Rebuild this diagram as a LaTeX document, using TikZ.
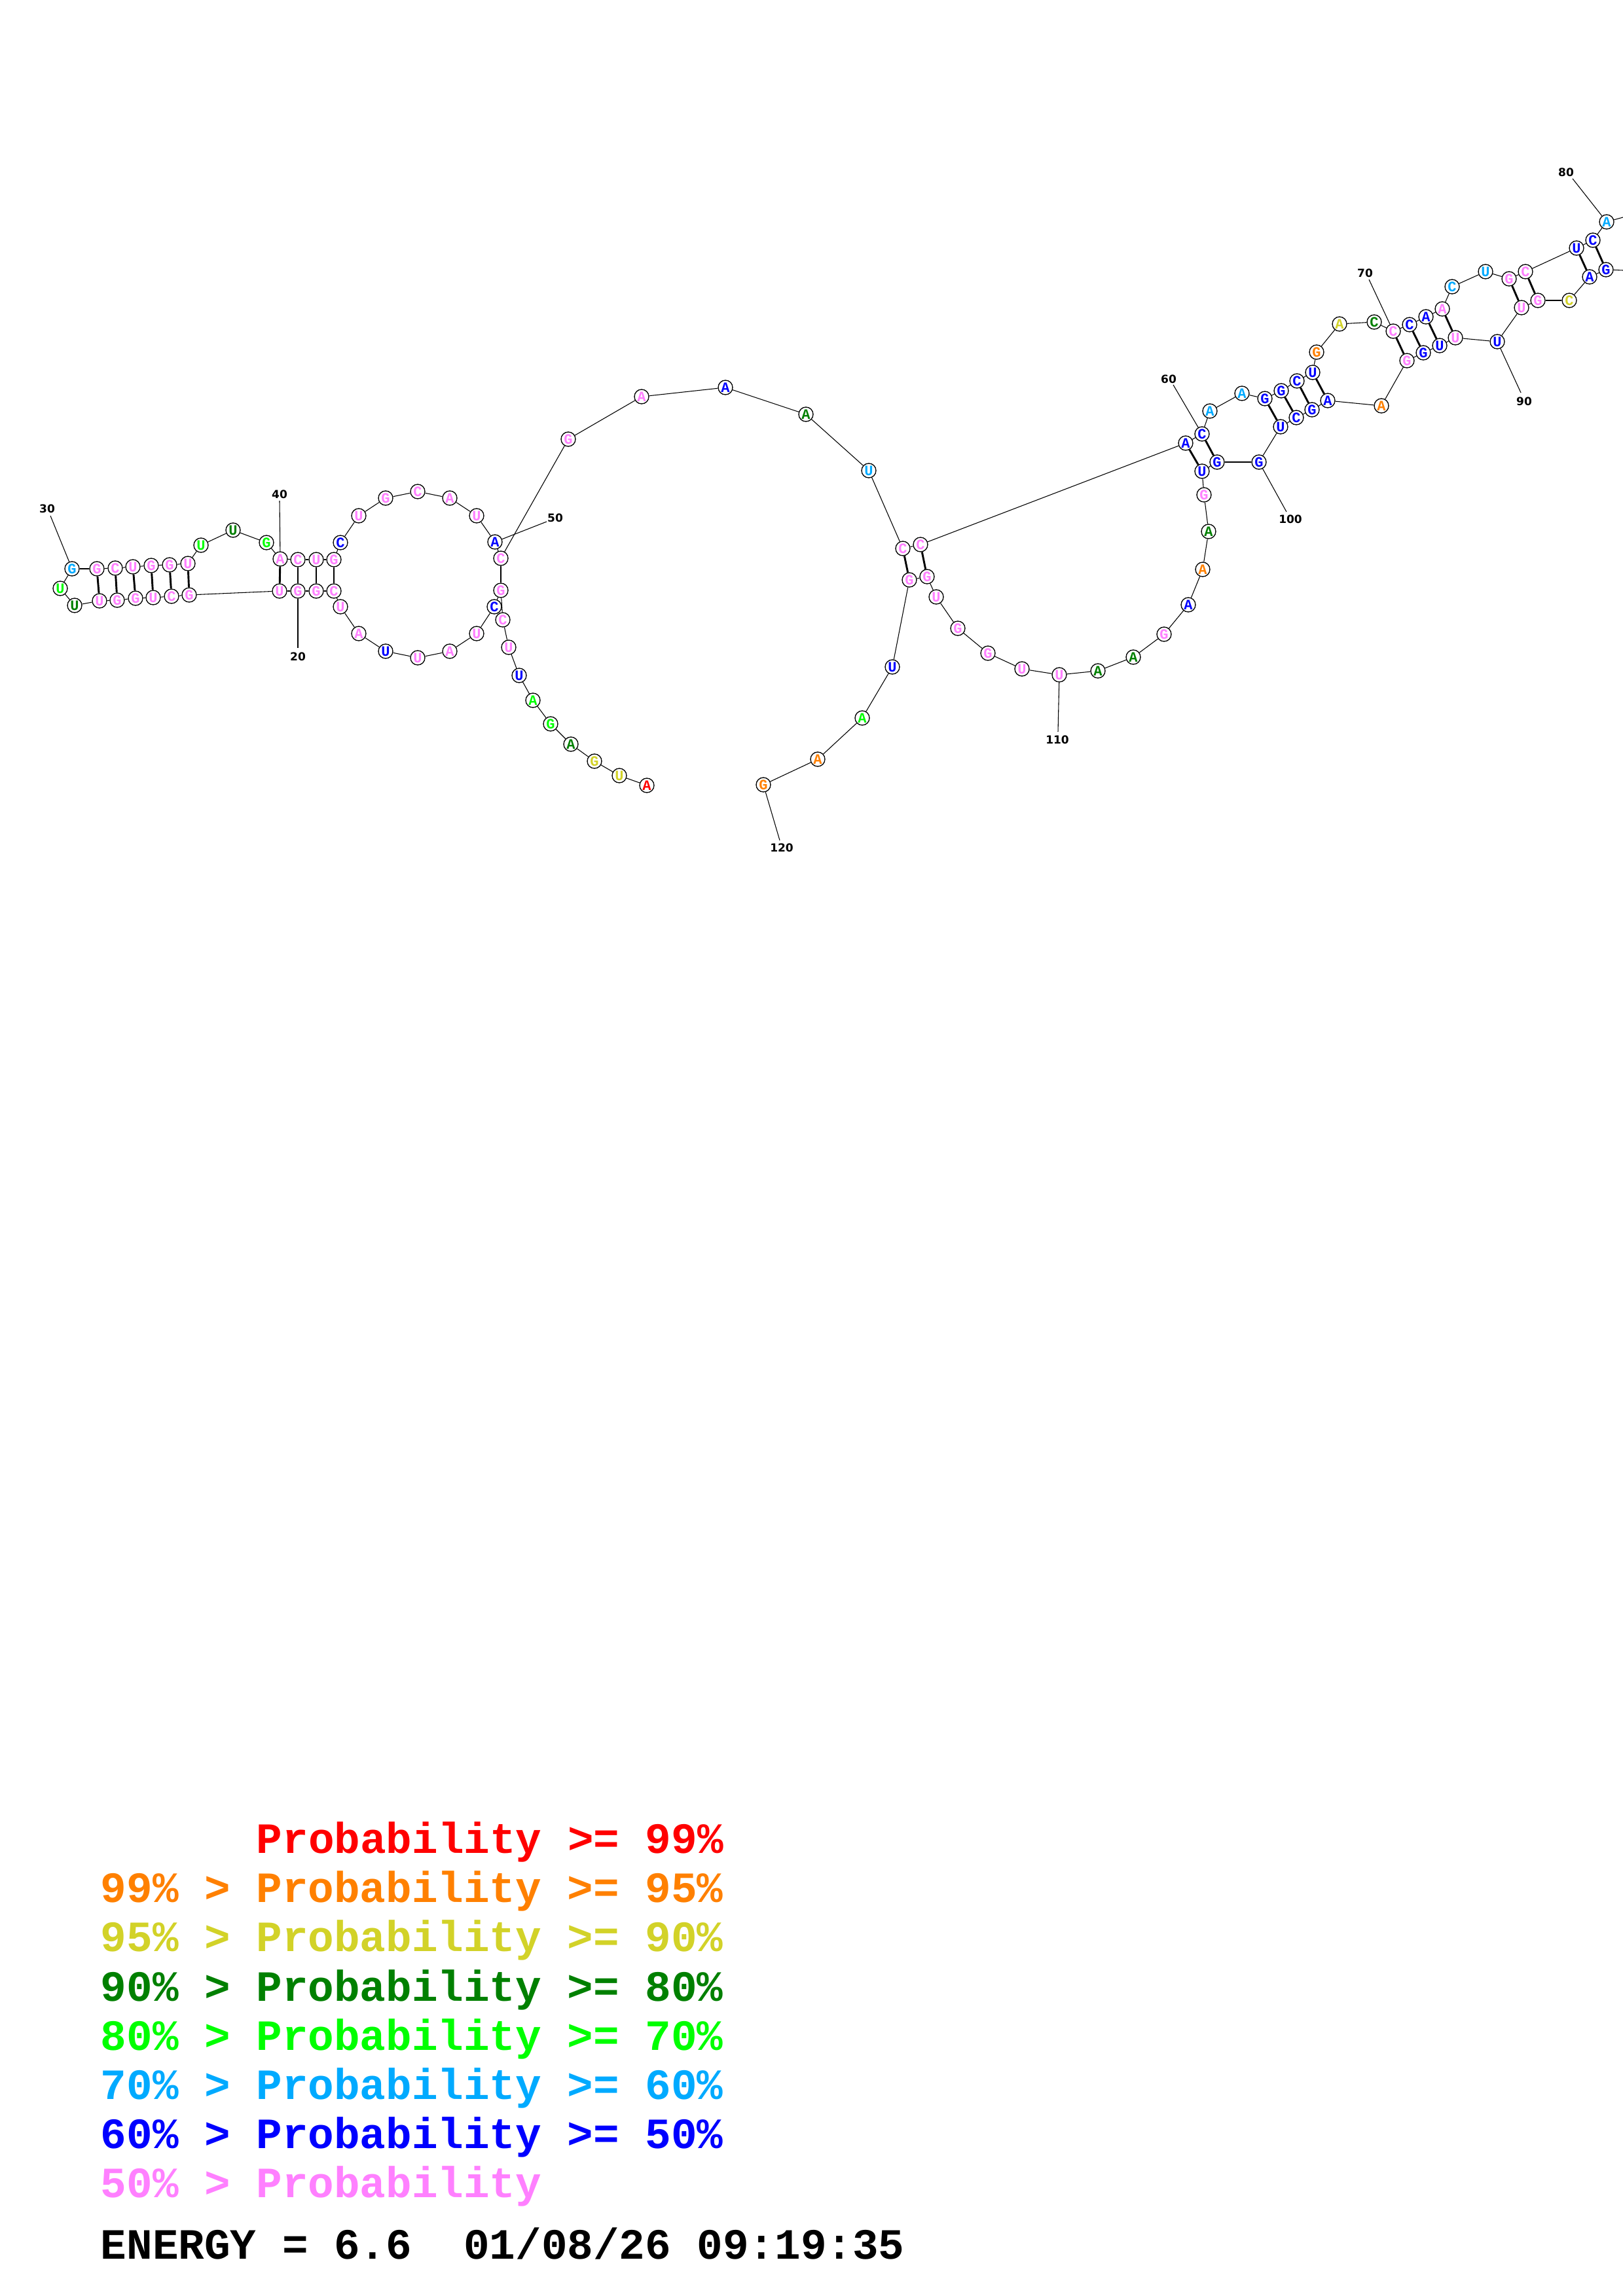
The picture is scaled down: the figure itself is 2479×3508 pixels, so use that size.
\documentclass[tikz,border=0pt]{standalone}
\usepackage{fontspec}
\newfontfamily\monof{Liberation Mono}
\newfontfamily\labf{DejaVu Sans}
\definecolor{cred}{RGB}{255,0,0}
\definecolor{corange}{RGB}{255,128,0}
\definecolor{cyellow}{RGB}{210,210,40}
\definecolor{cdkgreen}{RGB}{0,128,0}
\definecolor{cgreen}{RGB}{0,255,0}
\definecolor{ccyan}{RGB}{0,170,255}
\definecolor{cblue}{RGB}{0,0,255}
\definecolor{cpink}{RGB}{255,128,255}
\begin{document}
\begin{tikzpicture}[x=0.2409pt,y=-0.2409pt,
 nt/.style={circle,draw=black,line width=0.32pt,fill=white,minimum size=5.3pt,inner sep=0pt,font=\monof\bfseries\fontsize{5.3}{5.3}\selectfont},
 bb/.style={line width=0.26pt},
 bp/.style={line width=0.7pt},
 lab/.style={font=\labf\bfseries\fontsize{4.1}{4.1}\selectfont,inner sep=0pt},
 tick/.style={line width=0.26pt},
 leg/.style={anchor=base west,inner sep=0pt,font=\monof\bfseries\fontsize{15.9}{15.9}\selectfont}]
\fill[white] (0,0) rectangle (2479,3508);
\useasboundingbox (0,0) rectangle (2479,3508);
% nucleotides
\foreach \i/\x/\y/\b/\c in {
1/988/1200/A/cred, 2/946/1185/U/cyellow, 3/908/1163/G/cyellow, 4/872/1137/A/cdkgreen,
5/841/1106/G/cgreen, 6/814/1070/A/cgreen, 7/793/1032/U/cblue, 8/777/989/U/cpink,
9/768/947/C/cpink, 10/765/902/G/cpink, 11/755/927/C/cblue, 12/728/968/U/cpink,
13/687/995/A/cpink, 14/638/1005/U/cpink, 15/589/995/U/cblue, 16/548/968/A/cpink,
17/520/927/U/cpink, 18/510/903/C/cpink, 19/483/903/G/cpink, 20/455/903/G/cpink,
21/427/903/U/cpink, 22/289/909/G/cpink, 23/262/911/C/cpink, 24/234/913/U/cpink,
25/207/914/G/cpink, 26/179/917/G/cpink, 27/152/918/U/cpink, 28/114/925/U/cdkgreen,
29/92/899/U/cgreen, 30/110/869/G/ccyan, 31/148/869/G/cpink, 32/176/868/C/cpink,
33/203/866/U/cpink, 34/231/864/G/cpink, 35/259/863/G/cpink, 36/287/861/U/cpink,
37/307/833/U/cgreen, 38/356/810/U/cdkgreen, 39/407/829/G/cgreen, 40/428/854/A/cpink,
41/455/855/C/cpink, 42/483/855/U/cpink, 43/510/855/G/cpink, 44/520/829/C/cblue,
45/548/788/U/cpink, 46/589/761/G/cpink, 47/638/751/C/cpink, 48/687/761/A/cpink,
49/728/788/U/cpink, 50/756/828/A/cblue, 51/765/853/C/cpink, 52/868/671/G/cpink,
53/980/606/A/cpink, 54/1108/592/A/cblue, 55/1231/633/A/cdkgreen, 56/1327/719/U/ccyan,
57/1379/838/C/cpink, 58/1406/832/C/cpink, 59/1811/677/A/cblue, 60/1836/663/C/cblue,
61/1848/628/A/ccyan, 62/1897/601/A/ccyan, 63/1932/609/G/cblue, 64/1957/597/G/cblue,
65/1981/582/C/cblue, 66/2005/569/U/cblue, 67/2011/538/G/corange, 68/2046/495/A/cyellow,
69/2099/492/C/cdkgreen, 70/2128/506/C/cpink, 71/2153/496/C/cblue, 72/2178/484/A/cblue,
73/2203/472/A/cpink, 74/2218/438/C/ccyan, 75/2269/415/U/ccyan, 76/2305/426/G/cpink,
77/2330/415/C/cpink, 78/2408/379/U/cblue, 79/2433/367/C/cblue, 80/2454/339/A/ccyan,
85/2453/412/G/cblue, 86/2428/423/A/cblue, 87/2397/459/C/cyellow, 88/2349/459/G/cpink,
89/2324/470/U/cpink, 90/2287/522/U/cblue, 91/2223/516/U/cpink, 92/2199/528/U/cblue,
93/2174/539/G/cblue, 94/2149/551/G/cpink, 95/2110/620/A/corange, 96/2028/612/A/cblue,
97/2004/626/G/cblue, 98/1980/638/C/cblue, 99/1956/652/U/cblue, 100/1923/706/G/cblue,
101/1859/706/G/cblue, 102/1836/720/U/cblue, 103/1839/756/G/cpink, 104/1846/812/A/cdkgreen,
105/1837/870/A/corange, 106/1815/924/A/cblue, 107/1778/969/G/cpink, 108/1731/1004/A/cdkgreen,
109/1677/1025/A/cdkgreen, 110/1618/1031/U/cpink, 111/1561/1022/U/cpink, 112/1509/998/G/cpink,
113/1463/960/G/cpink, 114/1430/912/U/cpink, 115/1416/881/G/cpink, 116/1389/886/G/cpink,
117/1363/1019/U/cblue, 118/1317/1097/A/cgreen, 119/1249/1160/A/corange, 120/1166/1199/G/corange}
  \node[nt,text=\c] (n\i) at (\x,\y) {\b};
% free ends at the page edge
\coordinate (x81) at (2479,332);
\coordinate (x84) at (2479,413);
% backbone
\foreach \i in {1,...,79,85,86,...,119}{
  \pgfmathtruncatemacro{\j}{\i+1}
  \draw[bb] (n\i) -- (n\j);
}
\draw[bb] (n80) -- (x81);
\draw[bb] (x84) -- (n85);
% base pairs
\foreach \a/\b in {10/51,18/43,19/42,20/41,21/40,22/36,23/35,24/34,25/33,26/32,27/31,
  57/116,58/115,59/102,60/101,63/99,64/98,65/97,66/96,70/94,71/93,72/92,73/91,
  76/89,77/88,78/86,79/85}
  \draw[bp] (n\a) -- (n\b);
% index labels
\foreach \n/\x/\y/\tx/\ty in {30/72/777/77/788, 40/427/755/427/765, 20/455/1003/455/990,
  50/848/791/835/797, 60/1785/579/1792/588, 70/2085/417/2091/427, 80/2392/263/2402/273,
  90/2328/613/2323/600, 100/1971/793/1965/782, 110/1615/1130/1616/1118, 120/1194/1295/1191/1284}{
  \node[lab] (l\n) at (\x,\y) {\n};
  \coordinate (t\n) at (\tx,\ty);
  \draw[tick] (n\n) -- (t\n);
}
% legend
\node[leg,text=cred] (g1) at (391,2831) {Probability >= 99\%};
\node[leg,text=corange] (g2) at (153,2906) {99\% > Probability >= 95\%};
\node[leg,text=cyellow] (g3) at (153,2981) {95\% > Probability >= 90\%};
\node[leg,text=cdkgreen] (g4) at (153,3057) {90\% > Probability >= 80\%};
\node[leg,text=cgreen] (g5) at (153,3132) {80\% > Probability >= 70\%};
\node[leg,text=ccyan] (g6) at (153,3207) {70\% > Probability >= 60\%};
\node[leg,text=cblue] (g7) at (153,3282) {60\% > Probability >= 50\%};
\node[leg,text=cpink] (g8) at (153,3357) {50\% > Probability};
\node[leg,text=black] (en) at (153,3451) {ENERGY = 6.6~~01/08/26 09:19:35};
\end{tikzpicture}
\end{document}
